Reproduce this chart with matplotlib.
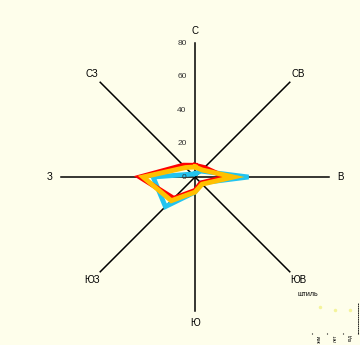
import numpy as np
import matplotlib
matplotlib.use("Agg")
import matplotlib.pyplot as plt

plt.rcParams["font.family"] = ["Liberation Sans", "DejaVu Sans"]

# румбы (по часовой от севера)
directions = ["С", "СВ", "В", "ЮВ", "Ю", "ЮЗ", "З", "СЗ"]
angles = np.deg2rad([0, 45, 90, 135, 180, 225, 270, 315])

# повторяемость ветра, %
red_vals = [7, 8, 18, 5, 8, 18, 33, 10]
yellow_vals = [6, 6, 23, 6, 9, 20, 31, 8]
blue_vals = [2, 5, 32, 5, 9, 25, 25, 2.5]

r_ticks = [0, 20, 40, 60, 80]

# штиль
calm_labels = ["зим", "лет", "год"]
calm_vals = [13, 11.5, 11.3]

bg = "#FEFEEB"

fig = plt.figure(figsize=(3.6, 3.45), dpi=100, facecolor=bg)
ax = fig.add_axes([0, 0, 1, 1])
ax.set_facecolor(bg)
ax.set_xlim(-116.4, 98.5)
ax.set_ylim(-100.3, 105.7)
ax.axis("off")

rmax = 80
# оси румбов
for a, name in zip(angles, directions):
    ax.plot([0, rmax*np.sin(a)], [0, rmax*np.cos(a)], color="black", lw=1.1, zorder=1)
    ax.text(87*np.sin(a), 87*np.cos(a), name, ha="center", va="center", fontsize=7)

for t in r_ticks:
    ax.text(-5, t, str(t), ha="right", va="center", fontsize=6, color="#333333")

def draw(vals, color, z):
    v = np.array(vals + vals[:1])
    a = np.concatenate([angles, angles[:1]])
    ax.plot(v*np.sin(a), v*np.cos(a), color=color, lw=3.5, solid_joinstyle="miter", zorder=z)

draw(blue_vals, "#22C4F0", 2)
draw(red_vals, "#FF0000", 3)
draw(yellow_vals, "#FFC000", 4)

# штиль
fig.text(298/360, 1 - 295/345, "штиль", fontsize=5, ha="left", va="center")
ax2 = fig.add_axes([309/360, 1 - 333/345, 49/360, 30/345])
ax2.patch.set_alpha(0)
ax2.set_xlim(-0.7, 2.5)
ax2.set_ylim(0, 15)
ax2.plot(range(len(calm_vals)), calm_vals, "o", ms=2.5, color="#F4F49A", mec="none")
for s in ["top", "left", "bottom"]:
    ax2.spines[s].set_visible(False)
ax2.spines["right"].set_linestyle(":")
ax2.spines["right"].set_linewidth(0.6)
ax2.set_yticks([])
ax2.set_xticks(range(len(calm_labels)))
ax2.set_xticklabels(calm_labels, rotation=90, fontsize=3.3)
ax2.tick_params(axis="x", length=0, pad=1)
ax2.set_xticks([-0.5, 0.5, 1.5, 2.5], minor=True)
ax2.tick_params(axis="x", which="minor", length=1, width=0.8)

fig.savefig("out.png", dpi=100, facecolor=bg)
